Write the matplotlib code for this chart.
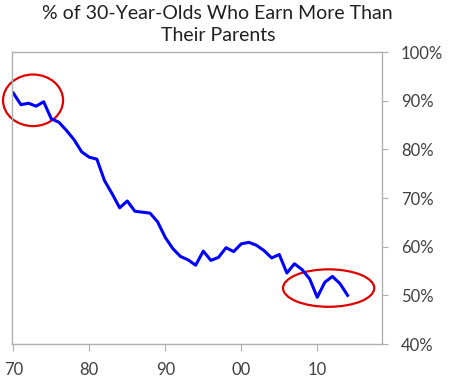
import matplotlib
matplotlib.use("Agg")
import matplotlib.pyplot as plt
from matplotlib.patches import Ellipse

years = list(range(1970, 2015))
share = [91.6, 89.2, 89.5, 88.9, 89.8, 86.3, 85.6, 83.9, 82.0, 79.5,
         78.4, 78.0, 73.6, 70.9, 68.0, 69.4, 67.3, 67.1, 66.9, 65.1,
         61.9, 59.6, 58.0, 57.3, 56.2, 59.1, 57.2, 57.8, 59.8, 59.0,
         60.6, 60.9, 60.3, 59.2, 57.7, 58.4, 54.6, 56.5, 55.3, 53.4,
         49.6, 52.7, 53.9, 52.4, 50.0]
tick_years = [1970, 1980, 1990, 2000, 2010]
tick_labels = ["70", "80", "90", "00", "10"]
y_ticks = [40, 50, 60, 70, 80, 90, 100]

plt.rcParams['font.family'] = ['Lato', 'DejaVu Sans']

fig = plt.figure(figsize=(4.5, 3.83), dpi=100)
ax = fig.add_axes([0.026, 0.1018, 0.822, 0.762])

ax.plot(years, share, color='#0000ff', lw=2.2, solid_joinstyle='round')

# red circles around start and end
ax.add_patch(Ellipse((1972.6, 90.1), 7.9, 10.6, fill=False, ec='#e00000',
                     lw=1.6, clip_on=False))
ax.add_patch(Ellipse((2011.5, 51.5), 12.0, 7.7, fill=False, ec='#e00000',
                     lw=1.6, clip_on=False))

ax.set_xlim(1969.79, 2018.47)
ax.set_ylim(40, 100)
ax.set_xticks(tick_years)
ax.set_xticklabels(tick_labels)
ax.set_yticks(y_ticks)
ax.set_yticklabels([f"{v}%" for v in y_ticks])
ax.yaxis.tick_right()

for s in ax.spines.values():
    s.set_color('#b0b0b0')
    s.set_linewidth(1.0)
ax.tick_params(axis='y', which='both', length=4, color='#b0b0b0', pad=10,
               labelsize=12, labelcolor='#404040', left=False, right=True)
ax.tick_params(axis='x', length=5, color='#b0b0b0', pad=8,
               labelsize=12, labelcolor='#404040')

fig.text(0.484, 0.988, "% of 30-Year-Olds Who Earn More Than\nTheir Parents",
         ha='center', va='top', fontsize=14, color='#202020', linespacing=1.4)

fig.savefig("out.png", dpi=100)
